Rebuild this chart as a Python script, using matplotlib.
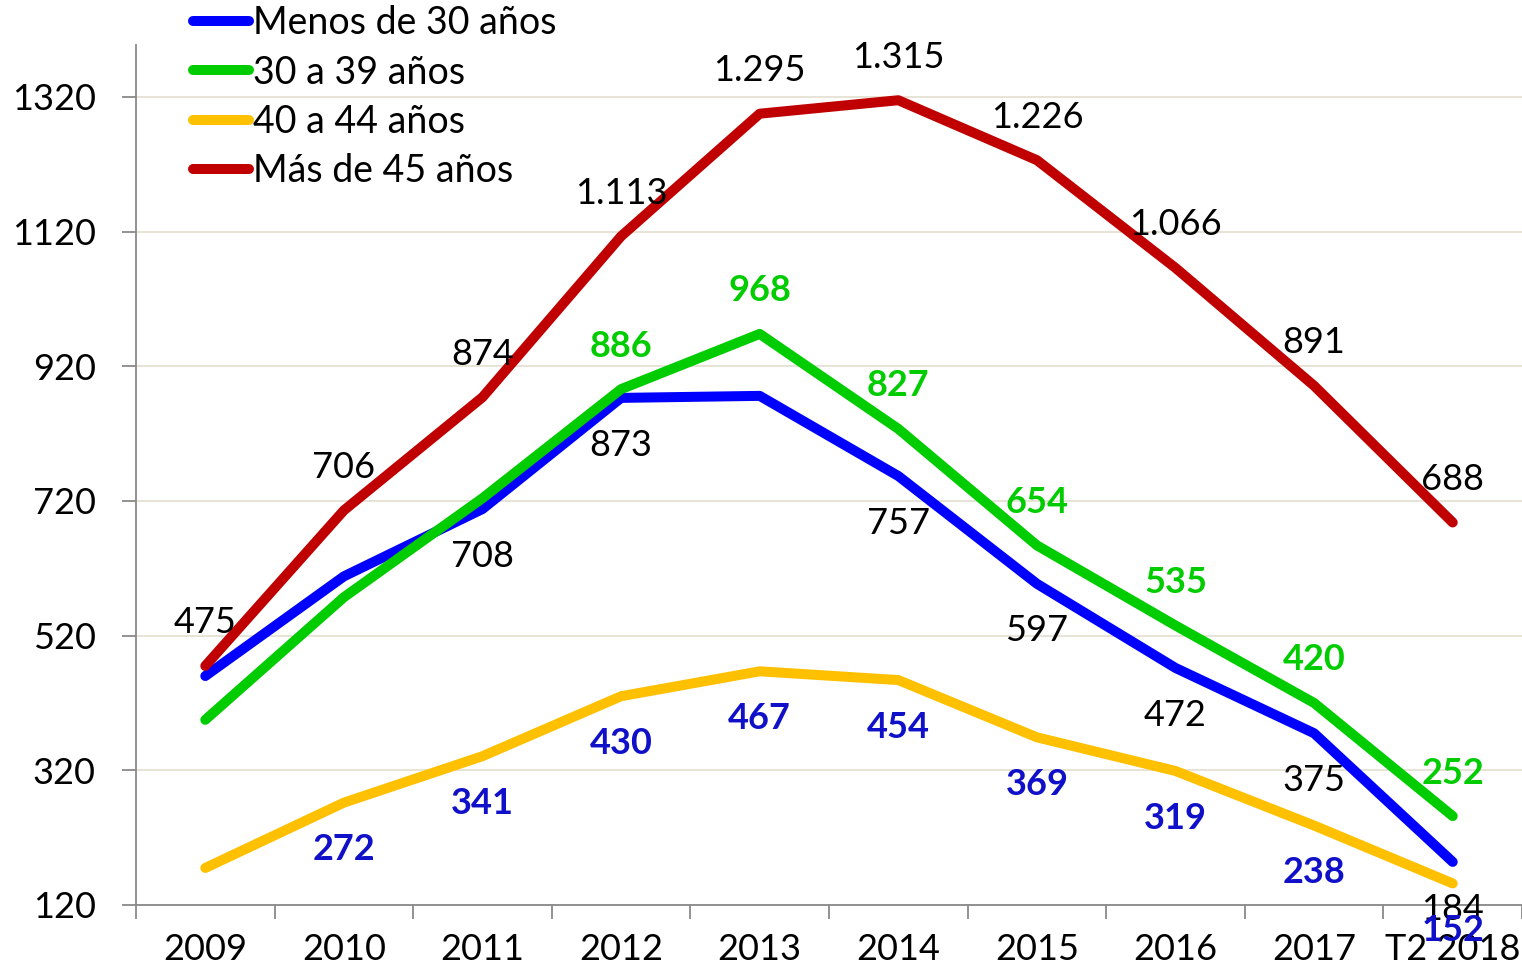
import matplotlib
matplotlib.use("Agg")
import matplotlib.pyplot as plt
from matplotlib.ticker import FixedLocator

plt.rcParams['font.family'] = ['Lato', 'DejaVu Sans']

years = ["2009", "2010", "2011", "2012", "2013", "2014", "2015", "2016", "2017", "T2 2018"]
menos_30 = [460, 608, 708, 873, 876, 757, 597, 472, 375, 184]
de_30_39 = [395, 577, 724, 886, 968, 827, 654, 535, 420, 252]
de_40_44 = [175, 272, 341, 430, 467, 454, 369, 319, 238, 152]
mas_45 = [475, 706, 874, 1113, 1295, 1315, 1226, 1066, 891, 688]

# which points get a data label
lbl_menos_30 = [False, False, True, True, False, True, True, True, True, True]
lbl_30_39 = [False, False, False, True, True, True, True, True, True, True]
lbl_40_44 = [False, True, True, True, True, True, True, True, True, True]
lbl_mas_45 = [True] * 10

yticks = [120, 320, 520, 720, 920, 1120, 1320]

fig = plt.figure(figsize=(15.22, 9.66), dpi=100)
ax = fig.add_axes([136 / 1522, 61 / 966, 1 - 136 / 1522, (905 - 45) / 966])

x = list(range(len(years)))
series = [
    ("Menos de 30 años", menos_30, "#0000ff"),
    ("30 a 39 años", de_30_39, "#00cc00"),
    ("40 a 44 años", de_40_44, "#ffc000"),
    ("Más de 45 años", mas_45, "#c00000"),
]
for name, vals, col in series:
    ax.plot(x, vals, color=col, lw=7.2, solid_capstyle='round',
            solid_joinstyle='round', label=name)


def fmt_thousands(v):
    return f"{v:,}".replace(",", ".")


fs = 26
def put_labels(vals, mask, dy, color, weight, fmt=str):
    for i, (v, m) in enumerate(zip(vals, mask)):
        if m:
            ax.annotate(fmt(v), (i, v), xytext=(0, dy), textcoords='offset points',
                        ha='center', va='center', fontsize=fs, color=color,
                        fontweight=weight, annotation_clip=False)

put_labels(mas_45, lbl_mas_45, 31, "black", "normal", fmt_thousands)
put_labels(menos_30, lbl_menos_30, -34, "black", "normal")
put_labels(de_30_39, lbl_30_39, 31, "#00cc00", "bold")
put_labels(de_40_44, lbl_40_44, -34, "#1010c8", "bold")

ax.set_xlim(-0.5, 9.5)
ax.set_ylim(120, 1397)
ax.set_yticks(yticks)
ax.set_xticks(x)
ax.set_xticklabels(years)
ax.xaxis.set_minor_locator(FixedLocator([i - 0.5 for i in range(11)]))
ax.tick_params(axis='x', which='major', length=0, pad=20, labelsize=fs)
ax.tick_params(axis='x', which='minor', length=10, width=1.3, color='#898989', direction='out')
ax.tick_params(axis='y', length=10, width=1.3, color='#898989', pad=19, labelsize=fs)

ax.grid(axis='y', color='#e3dfcf', lw=1.2)
ax.set_axisbelow(True)
for s in ['top', 'right']:
    ax.spines[s].set_visible(False)
for s in ['left', 'bottom']:
    ax.spines[s].set_color('#898989')
    ax.spines[s].set_linewidth(1.3)

leg = ax.legend(loc='upper left', bbox_to_anchor=(193 / 1522, 1 - 5 / 966), bbox_transform=fig.transFigure,
                frameon=False, fontsize=27, handlelength=1.5, handletextpad=0.1,
                labelspacing=0.36, borderaxespad=0, borderpad=0)
for h in leg.get_lines():
    h.set_linewidth(7.2)
    h.set_solid_capstyle('round')

fig.savefig("out.png", dpi=100)
